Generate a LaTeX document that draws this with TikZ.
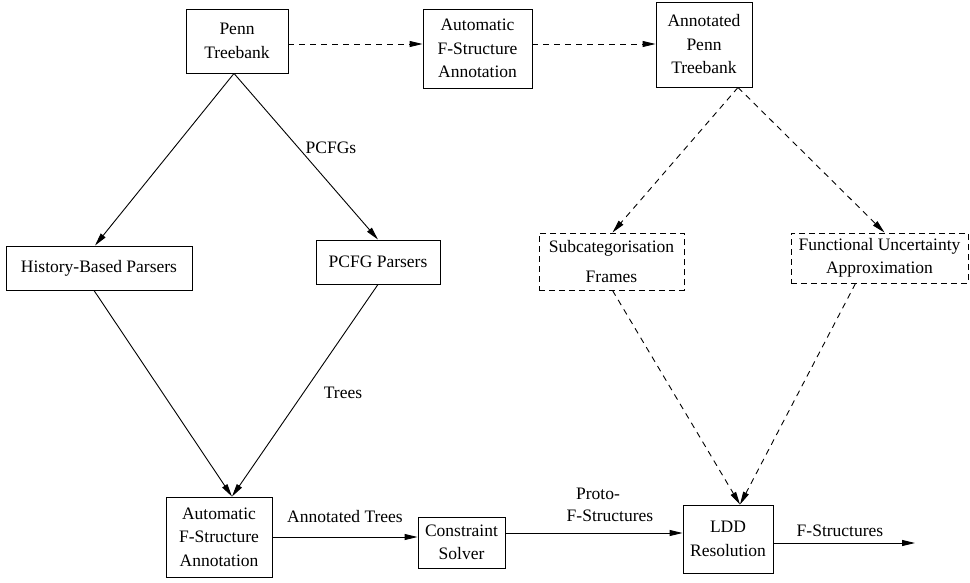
\documentclass[tikz,border=0pt]{standalone}
\usepackage{fontspec}
\setmainfont{Liberation Serif}
\usetikzlibrary{arrows.meta}
\begin{document}
\begin{tikzpicture}[x=1pt,y=-1pt,
  every node/.style={font=\fontsize{17.5}{23.5}\selectfont},
  box/.style={draw,line width=0.9pt,align=center,inner sep=0pt},
  dbox/.style={box,dash pattern=on 6pt off 4pt},
  lbl/.style={inner sep=0pt},
  conn/.style={line width=0.9pt,-{Triangle[length=13pt,width=6pt]}},
  dconn/.style={conn,dash pattern=on 6pt off 5pt}]
\useasboundingbox (0,0) rectangle (970,582);
\node[box,minimum width=102,minimum height=64] (pt) at (237,41) {Penn\\Treebank};
\node[box,minimum width=109,minimum height=79] (afs1) at (477.5,48.5) {Automatic\\F-Structure\\Annotation};
\node[box,minimum width=96,minimum height=85] (apt) at (704,44.5) {Annotated\\Penn\\Treebank};
\node[box,minimum width=186,minimum height=44] (hbp) at (99,268) {History-Based Parsers};
\node[box,minimum width=124,minimum height=44] (pcfg) at (378,262) {PCFG Parsers};
\node[dbox,minimum width=145,minimum height=57] (sub) at (611.5,261.5) {Subcategorisation\\[6pt]Frames};
\node[dbox,minimum width=177,minimum height=50] (fua) at (879.5,258) {Functional Uncertainty\\Approximation};
\node[box,minimum width=106,minimum height=80] (afs2) at (219,537) {Automatic\\F-Structure\\Annotation};
\node[box,minimum width=87,minimum height=51] (cs) at (461.5,542.5) {Constraint\\Solver};
\node[box,minimum width=90,minimum height=68] (ldd) at (728,539) {LDD\\Resolution};
\coordinate (out) at (915,543);

\node[lbl] (l1) at (331,148) {PCFGs};
\node[lbl] (l2) at (343,393) {Trees};
\node[lbl] (l3) at (345,517) {Annotated Trees};
\node[lbl] (l4) at (598,494) {Proto-};
\node[lbl] (l5) at (610,516) {F-Structures};
\node[lbl] (l6) at (840,531) {F-Structures};

\draw[dconn] ([yshift=-3pt]pt.east) -- ([yshift=-3pt]pt.east -| afs1.west);
\draw[dconn] ([yshift=4.5pt]afs1.east) -- ([yshift=4.5pt]afs1.east -| apt.west);
\draw[conn] ([xshift=-3pt]pt.south) -- ([xshift=-4pt]hbp.north);
\draw[conn] ([xshift=-3pt]pt.south) -- (pcfg.north);
\draw[conn] ([xshift=-5pt]hbp.south) -- ([xshift=13pt]afs2.north);
\draw[conn] (pcfg.south) -- ([xshift=13pt]afs2.north);
\draw[dconn] ([xshift=34pt]apt.south) -- ([xshift=1pt]sub.north);
\draw[dconn] ([xshift=34pt]apt.south) -- ([xshift=5pt]fua.north);
\draw[dconn] ([xshift=1pt]sub.south) -- ([xshift=12pt]ldd.north);
\draw[dconn] ([xshift=-24pt]fua.south) -- ([xshift=12pt]ldd.north);
\draw[conn] (afs2.east) -- (afs2.east -| cs.west);
\draw[conn] ([yshift=9.5pt]cs.east) -- ([yshift=9.5pt]cs.east -| ldd.west);
\draw[conn] ([yshift=-4pt]ldd.east) -- (out);
\end{tikzpicture}
\end{document}
